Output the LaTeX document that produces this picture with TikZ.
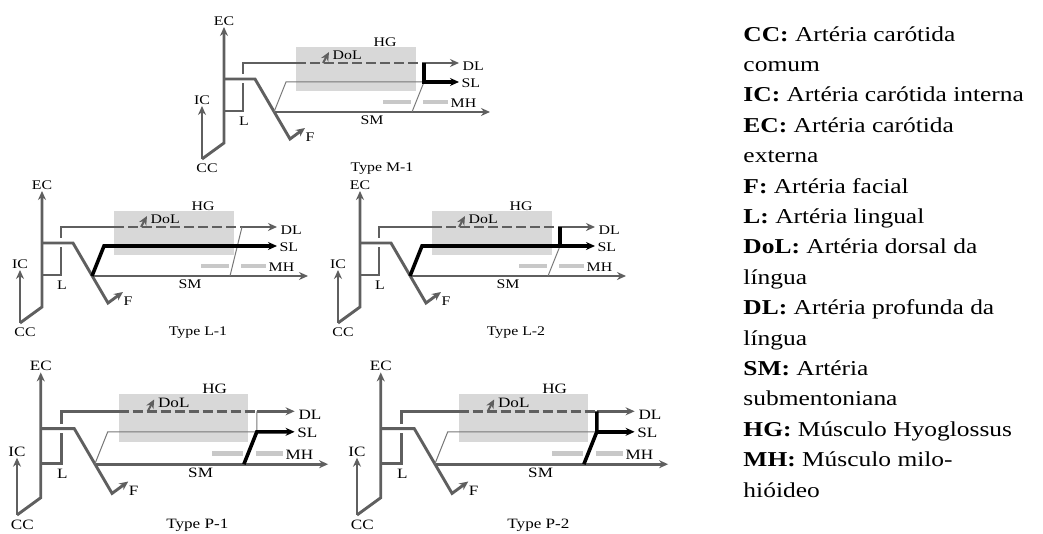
\documentclass[tikz,border=0pt]{standalone}
\usepackage{fontspec}
\setmainfont{Liberation Serif}
\usetikzlibrary{arrows.meta}

\definecolor{artgris}{RGB}{95,95,95}
\definecolor{hgfond}{RGB}{216,216,216}
\definecolor{mhfond}{RGB}{200,200,200}

\tikzset{
  art/.style={draw=artgris, line width=1.45pt},
  artfin/.style={draw=artgris!85, line width=0.5pt},
  artnoir/.style={draw=black, line width=1.8pt},
  lbl/.style={font=\fontsize{6.6}{7}\selectfont, inner sep=0.5pt, xscale=1.2, transform shape},
  legende/.style={font=\fontsize{10.6}{15.2}\selectfont, align=left, inner sep=0pt, xscale=1.2, transform shape},
  >={Stealth[length=4.5pt,width=4pt]},
}

% un schema : x, y, echelle, x du titre, titre, variante
\newcommand{\artpanel}[6]{%
\begin{scope}[shift={(#1,#2)},scale=#3]
  % points du schema
  \coordinate (CC) at (0,0);
  \coordinate (ICtop) at (0,53);
  \coordinate (ECbas) at (22,16);
  \coordinate (ECtop) at (22,132);
  \coordinate (B1) at (22,80);
  \coordinate (B2) at (53,80);
  \coordinate (B3) at (88,20);
  \coordinate (Fend) at (103,31);
  \coordinate (L1) at (22,48);
  \coordinate (L2) at (41,48);
  \coordinate (L3) at (41,96);
  \coordinate (D1) at (94,96);
  \coordinate (Jtop) at (222,96);
  \coordinate (DLend) at (257,96);
  \coordinate (K) at (84,77);
  \coordinate (J) at (222,77);
  \coordinate (SLend) at (257,77);
  \coordinate (S0) at (72,47);
  \coordinate (SMpt) at (210,47);
  \coordinate (SMend) at (288,47);
  \coordinate (DoL0) at (121,96);
  \coordinate (DoL1) at (127,107);
  % muscles HG et MH
  \fill[hgfond] (94,68) rectangle (214,112);
  \draw[mhfond, line width=2.2pt] (181,57) -- (209,57) (221,57) -- (246,57);
  % lingual et ses branches
  \draw[art] (L1) -- (L2) -- (L3) -- (D1);
  \draw[art, dash pattern=on 5pt off 2pt] (D1) -- (Jtop);
  \draw[art,->] (Jtop) -- (DLend);
  \draw[art, line width=1pt, ->] (DoL0) -- (DoL1);
  % facial, passe par-dessus la lingual
  \draw[white, line width=4.5pt] (B1) -- (B2);
  \draw[art,->] (B1) -- (B2) -- (B3) -- (Fend);
  \draw[art,->] (S0) -- (SMend);
  % carotides
  \draw[art,->] (CC) -- (ICtop);
  \draw[art,->] (CC) -- (ECbas) -- (ECtop);
  #6
  % textes
  \node[lbl, above] (ec) at (ECtop) {EC};
  \node[lbl, above] (ic) at (ICtop) {IC};
  \node[lbl] (cc) at (5,-9) {CC};
  \node[lbl] (l) at (42,38) {L};
  \node[lbl] (f) at (108,22) {F};
  \node[lbl] (hg) at (183,117) {HG};
  \node[lbl, anchor=west] (dol) at (129,104) {DoL};
  \node[lbl, anchor=west] (dl) at (259,93) {DL};
  \node[lbl, anchor=west] (sl) at (258,76) {SL};
  \node[lbl, anchor=west] (mh) at (247,56) {MH};
  \node[lbl] (sm) at (170,39) {SM};
  \node[lbl] (titre) at (#4,-10) {Type #5};
\end{scope}}

\begin{document}
\begin{tikzpicture}[x=0.5pt,y=0.5pt]
\useasboundingbox (0,0) rectangle (1043,534);

% Type M-1
\artpanel{202}{375}{1}{180}{M-1}{
  \draw[artfin] (S0) -- (K) -- (J) -- (SMpt);
  \draw[artnoir,->] (Jtop) -- (J) -- (SLend);
}
% Type L-1
\artpanel{20}{211}{1}{178}{L-1}{
  \draw[artfin] (Jtop) -- (SMpt);
  \draw[artnoir,->] (S0) -- (K) -- (SLend);
}
% Type L-2
\artpanel{338}{211}{1}{178}{L-2}{
  \draw[artfin] (J) -- (SMpt);
  \draw[artnoir,->] (S0) -- (K) -- (SLend);
  \draw[artnoir] (Jtop) -- (J);
}
% Type P-1
\artpanel{17}{19}{1.08}{167}{P-1}{
  \draw[artfin] (S0) -- (K) -- (J) -- (Jtop);
  \draw[artnoir,->] (SMpt) -- (J) -- (SLend);
}
% Type P-2
\artpanel{357}{19}{1.08}{168}{P-2}{
  \draw[artfin] (S0) -- (K) -- (J);
  \draw[artnoir] (SMpt) -- (J) -- (Jtop);
  \draw[artnoir,->] (J) -- (SLend);
}

% legende
\node[legende, anchor=north west] (leg) at (743,508) {%
\textbf{CC:} Artéria carótida\\
comum\\
\textbf{IC:} Artéria carótida interna\\
\textbf{EC:} Artéria carótida\\
externa\\
\textbf{F:} Artéria facial\\
\textbf{L:} Artéria lingual\\
\textbf{DoL:} Artéria dorsal da\\
língua\\
\textbf{DL:} Artéria profunda da\\
língua\\
\textbf{SM:} Artéria\\
submentoniana\\
\textbf{HG:} Músculo Hyoglossus\\
\textbf{MH:} Músculo milo-\\
hióideo};

\end{tikzpicture}
\end{document}
